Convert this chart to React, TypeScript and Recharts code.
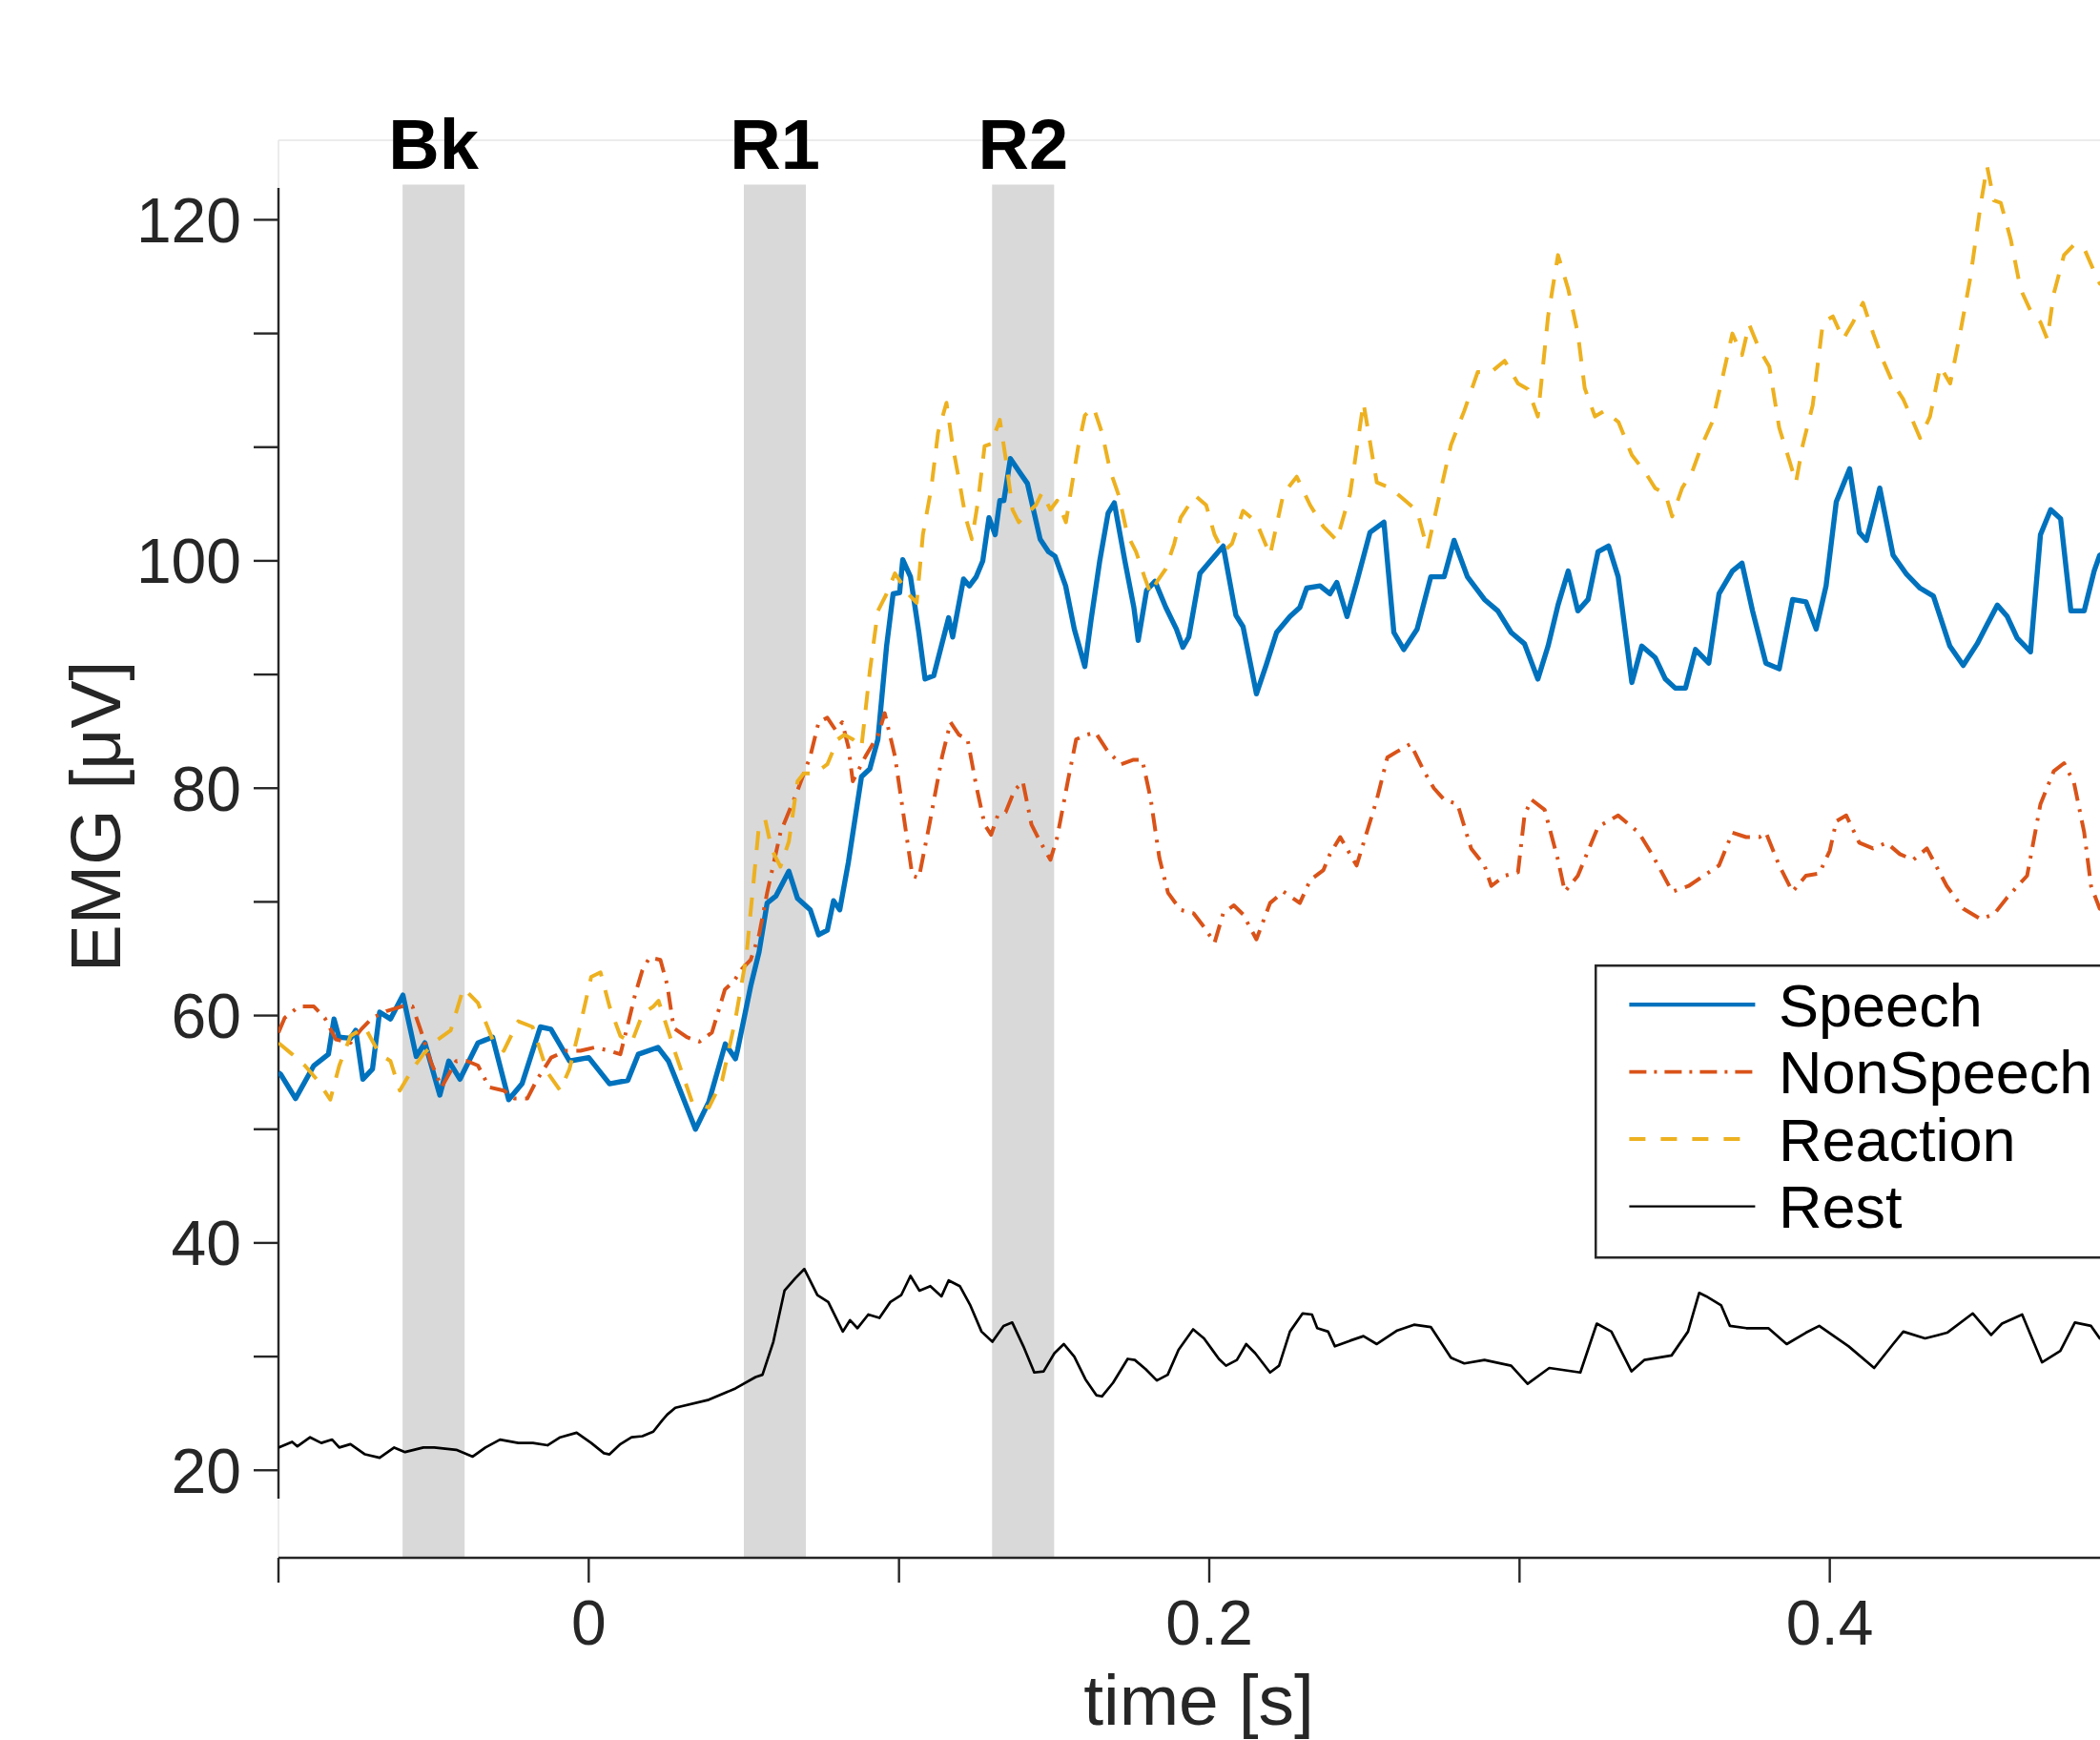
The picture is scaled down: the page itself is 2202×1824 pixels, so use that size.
import React from 'react';
import { LineChart, Line, XAxis, YAxis, ReferenceArea, ReferenceLine, Legend } from 'recharts';

const FONT = "'Liberation Sans', Arimo, Arial, Helvetica, sans-serif";

// ---- time axis / tick labels ----
const xTicks = [-0.1, 0, 0.1, 0.2, 0.3, 0.4, 0.5];
const xTickLabels = ['', '0', '', '0.2', '', '0.4', ''];
const yTicks = [20, 30, 40, 50, 60, 70, 80, 90, 100, 110, 120, 130];
const yTickLabels = ['20', '', '40', '', '60', '', '80', '', '100', '', '', '120'];

// ---- analysis windows ----
const bandNames = ['Bk', 'R1', 'R2'];
const bandStart = [-0.06, 0.05, 0.13];
const bandEnd = [-0.04, 0.07, 0.15];

// ---- Speech ----
const speechT = [-0.1, -0.0992, -0.0945, -0.0886, -0.0839, -0.0821, -0.0805, -0.0768, -0.0751, -0.0728, -0.0697, -0.0674, -0.0639, -0.0599, -0.0556, -0.0528, -0.048, -0.0451, -0.0415, -0.0357, -0.031, -0.0258, -0.0215, -0.0156, -0.0122, -0.0062, 0.0, 0.0067, 0.0126, 0.016, 0.0223, 0.0257, 0.0279, 0.0344, 0.0387, 0.044, 0.0473, 0.048, 0.0522, 0.0549, 0.0575, 0.0603, 0.0645, 0.0673, 0.0714, 0.0741, 0.0769, 0.0789, 0.0809, 0.0837, 0.0879, 0.0906, 0.0932, 0.096, 0.0981, 0.1002, 0.1012, 0.1037, 0.1064, 0.1084, 0.1112, 0.116, 0.1173, 0.1208, 0.1227, 0.1249, 0.127, 0.129, 0.131, 0.1325, 0.1338, 0.1359, 0.1386, 0.1414, 0.1455, 0.1482, 0.1503, 0.1537, 0.1565, 0.1599, 0.1619, 0.1647, 0.1674, 0.1694, 0.1728, 0.1757, 0.1771, 0.1798, 0.1825, 0.186, 0.1894, 0.1915, 0.1934, 0.197, 0.2004, 0.2045, 0.2086, 0.2109, 0.2152, 0.2183, 0.2217, 0.226, 0.2292, 0.2314, 0.2357, 0.2389, 0.2411, 0.2444, 0.2475, 0.2518, 0.2563, 0.2595, 0.2627, 0.267, 0.2714, 0.2757, 0.2789, 0.2832, 0.2887, 0.293, 0.2973, 0.3016, 0.3059, 0.3092, 0.3124, 0.3157, 0.3188, 0.3221, 0.3253, 0.3287, 0.3318, 0.3362, 0.3394, 0.3437, 0.347, 0.3502, 0.3535, 0.3567, 0.361, 0.3643, 0.3686, 0.3717, 0.3751, 0.3794, 0.3837, 0.388, 0.3923, 0.3956, 0.3988, 0.4021, 0.4064, 0.4095, 0.4118, 0.4161, 0.4204, 0.4248, 0.4291, 0.4334, 0.4387, 0.443, 0.4475, 0.4507, 0.454, 0.4572, 0.4604, 0.4647, 0.4679, 0.4712, 0.4744, 0.4777, 0.482, 0.4852, 0.487, 0.492];
const speechV = [55.0, 54.8, 52.7, 55.6, 56.6, 59.7, 58.1, 58.0, 58.7, 54.4, 55.3, 60.3, 59.7, 61.8, 56.4, 57.6, 53.0, 56.0, 54.4, 57.6, 58.1, 52.6, 54.0, 59.0, 58.8, 56.0, 56.3, 54.0, 54.3, 56.6, 57.2, 56.0, 54.5, 50.0, 52.4, 57.5, 56.2, 57.0, 62.6, 65.6, 69.9, 70.5, 72.7, 70.3, 69.3, 67.1, 67.5, 70.1, 69.3, 73.5, 81.0, 81.7, 84.3, 92.5, 97.1, 97.2, 100.1, 98.6, 93.7, 89.6, 89.9, 95.0, 93.3, 98.4, 97.8, 98.6, 100.0, 103.8, 102.3, 105.3, 105.3, 109.0, 107.9, 106.8, 101.9, 100.8, 100.4, 97.8, 94.0, 90.7, 94.8, 100.0, 104.2, 105.1, 100.0, 95.9, 93.0, 97.4, 98.2, 95.9, 94.0, 92.4, 93.3, 98.9, 100.0, 101.3, 95.2, 94.2, 88.3, 90.8, 93.7, 95.1, 95.9, 97.6, 97.8, 97.1, 98.1, 95.1, 98.1, 102.5, 103.4, 93.7, 92.2, 94.0, 98.6, 98.6, 101.8, 98.6, 96.6, 95.6, 93.7, 92.7, 89.6, 92.5, 96.1, 99.1, 95.6, 96.6, 100.8, 101.3, 98.6, 89.3, 92.5, 91.5, 89.6, 88.8, 88.8, 92.2, 91.0, 97.1, 99.1, 99.8, 95.6, 91.0, 90.5, 96.6, 96.4, 94.0, 97.8, 105.2, 108.1, 102.5, 101.8, 106.4, 100.5, 98.8, 97.6, 96.9, 92.5, 90.8, 92.7, 94.4, 96.1, 95.1, 93.2, 92.0, 102.3, 104.5, 103.7, 95.6, 95.6, 99.1, 100.5, 101.0];

// ---- NonSpeech ----
const nonSpeechT = [-0.1, -0.098, -0.0934, -0.0886, -0.0851, -0.0815, -0.0768, -0.0733, -0.0697, -0.0651, -0.0603, -0.0568, -0.0539, -0.051, -0.0474, -0.0427, -0.0392, -0.0357, -0.0321, -0.0274, -0.0239, -0.0198, -0.0168, -0.0121, -0.0074, -0.0027, 0.002, 0.0067, 0.0102, 0.0126, 0.0149, 0.0173, 0.0196, 0.0231, 0.0253, 0.0274, 0.0316, 0.0357, 0.0397, 0.0439, 0.0467, 0.0494, 0.0522, 0.0549, 0.0575, 0.0618, 0.0673, 0.0714, 0.0741, 0.0769, 0.0796, 0.0817, 0.0837, 0.0851, 0.0892, 0.0933, 0.0954, 0.0987, 0.1009, 0.1043, 0.1064, 0.1098, 0.1139, 0.1166, 0.1193, 0.1221, 0.1249, 0.1276, 0.1297, 0.1318, 0.1344, 0.1372, 0.1399, 0.1427, 0.1455, 0.1488, 0.151, 0.1544, 0.1571, 0.1605, 0.1633, 0.1674, 0.1716, 0.1756, 0.1784, 0.1811, 0.1839, 0.1867, 0.1907, 0.1949, 0.1983, 0.2017, 0.2045, 0.2079, 0.2109, 0.2152, 0.2196, 0.2239, 0.2292, 0.2325, 0.2368, 0.2389, 0.2422, 0.2475, 0.254, 0.2574, 0.2604, 0.2649, 0.2692, 0.2724, 0.2757, 0.28, 0.2844, 0.2887, 0.2909, 0.2952, 0.2995, 0.3016, 0.3038, 0.3081, 0.3124, 0.3146, 0.3188, 0.3253, 0.3318, 0.3384, 0.3427, 0.3492, 0.3545, 0.3643, 0.3686, 0.373, 0.3773, 0.3794, 0.3837, 0.388, 0.3923, 0.3966, 0.4, 0.4021, 0.4053, 0.4095, 0.4139, 0.4183, 0.4226, 0.4269, 0.4313, 0.4377, 0.443, 0.4486, 0.4529, 0.4572, 0.4636, 0.4679, 0.4722, 0.4755, 0.4787, 0.482, 0.4842, 0.487, 0.492];
const nonSpeechV = [58.5, 59.8, 60.8, 60.8, 59.8, 57.9, 57.6, 58.8, 59.8, 60.4, 60.8, 60.8, 58.5, 56.0, 53.7, 56.0, 56.0, 55.6, 53.7, 53.4, 52.7, 52.7, 54.3, 56.3, 56.9, 56.9, 57.2, 56.9, 56.6, 59.2, 61.8, 64.0, 65.1, 64.9, 62.7, 58.9, 58.1, 57.7, 58.5, 62.3, 63.0, 64.1, 64.9, 67.1, 70.8, 76.1, 79.8, 82.8, 85.8, 86.2, 85.1, 85.8, 83.6, 80.6, 82.8, 84.7, 86.6, 82.8, 78.7, 72.3, 72.1, 76.8, 82.8, 85.8, 84.7, 84.3, 80.2, 76.8, 75.9, 77.6, 77.9, 79.8, 80.6, 76.8, 75.3, 73.7, 75.7, 80.6, 84.3, 84.7, 84.9, 83.2, 82.1, 82.5, 82.5, 79.1, 73.9, 70.8, 69.3, 69.0, 67.8, 66.4, 69.0, 69.7, 68.9, 66.7, 69.9, 70.9, 69.9, 71.9, 72.8, 74.2, 75.7, 73.2, 79.0, 82.7, 83.2, 83.9, 81.5, 80.0, 79.0, 78.6, 74.7, 73.2, 71.4, 72.3, 72.6, 77.6, 79.0, 78.1, 73.7, 70.9, 72.3, 76.6, 77.6, 76.1, 74.2, 70.9, 71.4, 73.2, 76.1, 75.7, 75.7, 76.1, 73.2, 70.9, 72.3, 72.5, 74.5, 77.1, 77.6, 75.2, 74.7, 75.2, 74.2, 73.7, 74.7, 71.4, 69.4, 68.5, 68.9, 70.4, 72.3, 78.6, 81.5, 82.2, 80.5, 76.1, 71.4, 69.4, 69.0];

// ---- Reaction ----
const reactionT = [-0.1, -0.0956, -0.0915, -0.0874, -0.0833, -0.0804, -0.0768, -0.0722, -0.0674, -0.0639, -0.0609, -0.0568, -0.0533, -0.0486, -0.0445, -0.0404, -0.0357, -0.031, -0.0274, -0.0227, -0.0181, -0.0133, -0.0092, -0.0062, -0.0027, 0.0008, 0.0038, 0.0067, 0.0102, 0.0138, 0.0173, 0.0208, 0.0225, 0.0279, 0.0333, 0.0387, 0.043, 0.0473, 0.0508, 0.0549, 0.0569, 0.059, 0.0618, 0.0645, 0.0673, 0.0693, 0.0728, 0.0769, 0.0803, 0.0824, 0.0851, 0.0879, 0.0906, 0.0932, 0.096, 0.0987, 0.103, 0.1057, 0.1077, 0.1104, 0.1126, 0.1153, 0.1173, 0.1193, 0.1215, 0.1235, 0.1255, 0.1276, 0.1297, 0.1325, 0.1344, 0.1366, 0.1386, 0.1414, 0.1441, 0.1461, 0.1488, 0.151, 0.1538, 0.1558, 0.1578, 0.1599, 0.1627, 0.1654, 0.1681, 0.1709, 0.1736, 0.1764, 0.1791, 0.1811, 0.1832, 0.186, 0.1887, 0.1908, 0.1934, 0.1956, 0.199, 0.2017, 0.2045, 0.2073, 0.2109, 0.2152, 0.2196, 0.2239, 0.2282, 0.2325, 0.2368, 0.2411, 0.2454, 0.2497, 0.254, 0.2584, 0.2627, 0.267, 0.2703, 0.2735, 0.2779, 0.2822, 0.2865, 0.2908, 0.2952, 0.2995, 0.3027, 0.3059, 0.3092, 0.3124, 0.3157, 0.3188, 0.321, 0.3243, 0.3275, 0.3319, 0.3362, 0.3405, 0.3437, 0.347, 0.3492, 0.3524, 0.3556, 0.3588, 0.3621, 0.3654, 0.3686, 0.3717, 0.374, 0.3773, 0.3805, 0.3837, 0.387, 0.3891, 0.3913, 0.3945, 0.3978, 0.401, 0.4043, 0.4075, 0.4107, 0.414, 0.4172, 0.4204, 0.4237, 0.4269, 0.4291, 0.4323, 0.4356, 0.4388, 0.442, 0.4453, 0.4486, 0.4507, 0.4529, 0.4551, 0.4583, 0.4615, 0.4647, 0.4679, 0.4701, 0.4722, 0.4755, 0.4787, 0.4821, 0.4853, 0.487, 0.492];
const reactionV = [57.6, 56.6, 55.6, 54.3, 52.6, 55.6, 58.2, 59.0, 56.6, 56.0, 53.4, 55.3, 56.6, 57.9, 58.7, 62.4, 61.1, 57.9, 56.9, 59.5, 59.0, 55.0, 53.4, 55.3, 59.2, 63.4, 63.8, 60.8, 58.2, 57.6, 60.1, 60.8, 61.3, 56.7, 52.4, 51.9, 54.3, 59.7, 65.2, 76.8, 77.2, 74.6, 73.1, 75.3, 80.6, 81.3, 81.3, 82.1, 84.3, 84.7, 84.3, 83.6, 90.3, 95.6, 97.1, 98.9, 97.1, 96.3, 102.3, 106.4, 111.3, 113.9, 110.1, 107.2, 103.8, 101.9, 105.3, 110.1, 110.3, 112.4, 109.0, 104.5, 103.4, 104.2, 104.9, 106.0, 104.5, 105.3, 103.4, 106.8, 110.1, 112.8, 113.5, 111.3, 107.9, 105.7, 102.3, 100.8, 98.6, 97.1, 98.2, 99.3, 101.5, 103.8, 104.9, 105.7, 104.9, 102.3, 100.8, 101.5, 104.4, 103.4, 100.5, 105.9, 107.4, 104.9, 103.0, 101.8, 105.9, 113.9, 106.9, 106.4, 105.4, 104.4, 101.0, 104.9, 110.2, 113.2, 116.6, 116.6, 117.6, 115.6, 115.1, 112.7, 121.5, 126.9, 123.9, 120.0, 115.2, 112.7, 113.2, 112.2, 109.3, 107.8, 106.4, 105.9, 103.9, 106.4, 107.8, 110.2, 112.2, 116.1, 120.0, 118.1, 120.8, 118.6, 117.1, 111.7, 108.8, 106.9, 110.2, 113.7, 121.0, 121.5, 119.5, 121.0, 122.7, 120.0, 117.6, 115.6, 114.2, 112.2, 110.8, 112.7, 117.1, 115.6, 120.0, 124.9, 131.3, 134.7, 131.7, 131.5, 128.3, 123.9, 122.0, 121.0, 119.5, 123.5, 126.9, 127.8, 127.4, 125.4, 124.4, 123.5];

// ---- Rest ----
const restT = [-0.1, -0.0956, -0.0939, -0.0898, -0.0862, -0.0827, -0.0804, -0.0768, -0.0721, -0.0674, -0.0627, -0.0592, -0.0533, -0.0498, -0.0427, -0.0374, -0.0333, -0.0286, -0.0227, -0.018, -0.0133, -0.0092, -0.0039, 0.0008, 0.0049, 0.0067, 0.0102, 0.0138, 0.0173, 0.0208, 0.0237, 0.0253, 0.0279, 0.0387, 0.0473, 0.0538, 0.056, 0.0595, 0.0631, 0.0666, 0.0695, 0.0737, 0.0772, 0.0819, 0.0842, 0.0866, 0.0901, 0.0937, 0.0972, 0.1007, 0.1037, 0.1066, 0.1101, 0.1137, 0.116, 0.1196, 0.123, 0.1266, 0.1301, 0.1337, 0.1365, 0.1401, 0.1436, 0.1466, 0.1501, 0.1531, 0.1565, 0.1601, 0.1636, 0.1654, 0.169, 0.1737, 0.176, 0.1795, 0.1831, 0.1866, 0.1901, 0.1948, 0.1983, 0.2031, 0.2054, 0.2089, 0.2119, 0.2148, 0.2196, 0.2225, 0.226, 0.2301, 0.2331, 0.2348, 0.2383, 0.2405, 0.2454, 0.2497, 0.254, 0.2606, 0.266, 0.2714, 0.2779, 0.2822, 0.2887, 0.2973, 0.3026, 0.3096, 0.3196, 0.3249, 0.3296, 0.3361, 0.3402, 0.349, 0.3543, 0.3579, 0.3602, 0.365, 0.3678, 0.3731, 0.3802, 0.3861, 0.3923, 0.3966, 0.4061, 0.4143, 0.4204, 0.4237, 0.4307, 0.4378, 0.4461, 0.452, 0.4555, 0.462, 0.4684, 0.4743, 0.479, 0.4842, 0.487, 0.492];
const restV = [22.0, 22.5, 22.1, 22.9, 22.4, 22.7, 22.0, 22.3, 21.4, 21.1, 22.0, 21.6, 22.0, 22.0, 21.8, 21.2, 22.0, 22.7, 22.4, 22.4, 22.2, 22.9, 23.3, 22.4, 21.5, 21.4, 22.3, 22.9, 23.0, 23.4, 24.4, 24.9, 25.5, 26.2, 27.2, 28.2, 28.4, 31.3, 35.8, 36.9, 37.7, 35.4, 34.8, 32.2, 33.2, 32.5, 33.7, 33.4, 34.8, 35.4, 37.1, 35.8, 36.2, 35.3, 36.7, 36.2, 34.5, 32.2, 31.3, 32.7, 33.0, 30.9, 28.6, 28.7, 30.3, 31.1, 30.0, 28.0, 26.6, 26.5, 27.7, 29.8, 29.7, 28.9, 27.9, 28.4, 30.6, 32.4, 31.6, 29.8, 29.2, 29.7, 31.1, 30.3, 28.6, 29.2, 32.2, 33.8, 33.7, 32.5, 32.2, 30.9, 31.4, 31.8, 31.1, 32.3, 32.8, 32.6, 29.9, 29.4, 29.7, 29.2, 27.6, 29.0, 28.6, 32.9, 32.2, 28.7, 29.7, 30.1, 32.2, 35.6, 35.3, 34.5, 32.7, 32.5, 32.5, 31.1, 32.1, 32.7, 30.9, 29.0, 31.1, 32.2, 31.6, 32.1, 33.8, 31.9, 32.9, 33.7, 29.5, 30.5, 33.0, 32.7, 31.6, 31.4];

const zip = (ts: number[], vs: number[]) => ts.map((t, i) => ({ t, v: vs[i] }));

const series = [
  { name: 'Speech', data: zip(speechT, speechV), color: '#0072BD', width: 5.4, dash: undefined as string | undefined, legendDash: undefined as string | undefined, legendWidth: 4.2 },
  { name: 'NonSpeech', data: zip(nonSpeechT, nonSpeechV), color: '#D95319', width: 4.0, dash: '19 9 3 9', legendDash: '18 8 3 8', legendWidth: 3.8 },
  { name: 'Reaction', data: zip(reactionT, reactionV), color: '#EDB120', width: 4.0, dash: '20 15', legendDash: '17 16', legendWidth: 3.8 },
  { name: 'Rest', data: zip(restT, restV), color: '#000000', width: 2.7, dash: undefined as string | undefined, legendDash: undefined as string | undefined, legendWidth: 2.2 },
];

const AXIS = '#262626';

function LegendBox() {
  const rows = [42.2, 112.6, 183, 253.6];
  return (
    <svg width={560} height={310} style={{ display: 'block' }}>
      <rect x={1.25} y={1.25} width={700} height={306} fill="#ffffff" stroke={AXIS} strokeWidth={2.5} />
      {series.map((s, i) => (
        <g key={s.name}>
          <line x1={36.4} x2={168.4} y1={rows[i]} y2={rows[i]} stroke={s.color} strokeWidth={s.legendWidth} strokeDasharray={s.legendDash} />
          <text x={193} y={rows[i] + 22.5} fontSize={63} fontFamily={FONT} fill="#000">{s.name}</text>
        </g>
      ))}
    </svg>
  );
}

function XTitle() {
  return (
    <text x={1257} y={1808} textAnchor="middle" fontSize={75} fontFamily={FONT} fill={AXIS}>time [s]</text>
  );
}

function YTitle() {
  return (
    <text x={0} y={0} transform="translate(126,856) rotate(-90)" textAnchor="middle" fontSize={75} fontFamily={FONT} fill={AXIS}>EMG [μV]</text>
  );
}

export default function App() {
  return (
    <div style={{ position: 'absolute', left: 0, top: 0, width: 2202, height: 1824, overflow: 'hidden', background: '#ffffff' }}>
      <LineChart width={2300} height={1824} margin={{ top: 147, right: 56, bottom: 91, left: 0 }}>
        <XAxis
          type="number"
          dataKey="t"
          domain={[-0.1, 0.5]}
          allowDataOverflow
          ticks={xTicks}
          interval={0}
          tickFormatter={(v: number) => xTickLabels[xTicks.findIndex((x) => Math.abs(x - v) < 1e-9)] ?? ''}
          tickSize={26}
          tickMargin={18}
          height={100}
          axisLine={{ stroke: AXIS, strokeWidth: 2.4 }}
          tickLine={{ stroke: AXIS, strokeWidth: 2.4 }}
          tick={{ fontSize: 66, fill: AXIS, fontFamily: FONT }}
          label={<XTitle />}
        />
        <YAxis
          type="number"
          domain={[12.3, 137]}
          allowDataOverflow
          ticks={yTicks}
          interval={0}
          tickFormatter={(v: number) => yTickLabels[yTicks.indexOf(v)] ?? ''}
          width={292}
          tickSize={26}
          tickMargin={13}
          axisLine={false}
          tickLine={{ stroke: AXIS, strokeWidth: 2.4 }}
          tick={{ fontSize: 66, fill: AXIS, fontFamily: FONT }}
          label={<YTitle />}
        />
        <ReferenceLine y={137} stroke="#e6e6e6" strokeWidth={1.5} ifOverflow="visible" />
        <ReferenceLine x={-0.1} stroke="#e6e6e6" strokeWidth={1.5} ifOverflow="visible" />
        {bandNames.map((n, i) => (
          <ReferenceArea
            key={n}
            x1={bandStart[i]}
            x2={bandEnd[i]}
            y1={12.3}
            y2={133.1}
            fill="#d9d9d9"
            fillOpacity={1}
            stroke="none"
            ifOverflow="visible"
            label={{ value: n, position: 'top', offset: 16, fontSize: 74, fontWeight: 'bold', fill: '#000', fontFamily: FONT }}
          />
        ))}
        <ReferenceLine
          segment={[{ x: -0.1, y: 17.5 }, { x: -0.1, y: 132.8 }]}
          stroke={AXIS}
          strokeWidth={2.4}
          ifOverflow="visible"
        />
        {series.map((s) => (
          <Line
            key={s.name}
            data={s.data}
            dataKey="v"
            name={s.name}
            type="linear"
            stroke={s.color}
            strokeWidth={s.width}
            strokeDasharray={s.dash}
            strokeLinejoin="round"
            dot={false}
            activeDot={false}
            isAnimationActive={false}
          />
        ))}
        <Legend
          layout="vertical"
          align="center"
          verticalAlign="middle"
          content={() => <LegendBox />}
          wrapperStyle={{ position: 'absolute', left: 1672, top: 1011, width: 560, height: 310 }}
        />
      </LineChart>
    </div>
  );
}
